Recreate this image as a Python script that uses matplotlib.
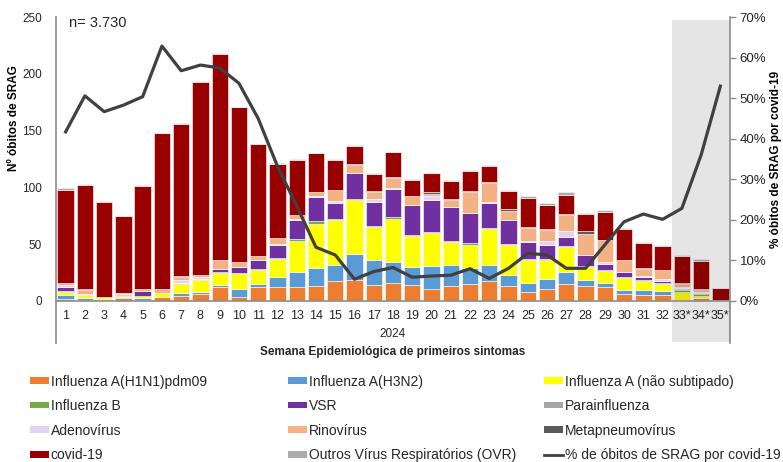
# Óbitos de SRAG por semana epidemiológica, 2024
import matplotlib.pyplot as plt
import matplotlib.transforms as mtransforms
from matplotlib.patches import Patch, Rectangle
from matplotlib.lines import Line2D
from matplotlib.ticker import PercentFormatter
import numpy as np

plt.rcParams['font.family'] = ['Liberation Sans', 'DejaVu Sans']

# --- Dados ---
semanas = [str(i) for i in range(1, 33)] + ['33*', '34*', '35*']

h1n1 = [1.5, 1, 0.5, 2.5, 1, 3.5, 4.5, 6, 12.5, 3.5, 12, 12, 12, 13, 17, 18, 14, 16,
        14, 10, 13, 15, 17, 13, 8, 10, 15, 13, 12, 6, 5, 5, 0.5, 2, 0.5]
h3n2 = [3.5, 1, 0.5, 1, 1, 0, 2, 2, 1.5, 6.5, 2.5, 9, 13, 16, 14.5, 23.5, 22, 18.5,
        16, 21, 18.5, 14, 14.5, 9.5, 8, 9, 10.5, 5, 3.5, 3.5, 4.5, 3.5, 0.5, 0.5, 0]
flu_a = [3, 3, 1.5, 0.5, 2.5, 3, 8.5, 10, 10.5, 14, 13, 16, 28, 38.5, 39.5, 47.5, 29, 38,
         27, 28.5, 20.5, 20.5, 31.5, 26.5, 20, 17, 22, 12, 11, 10.5, 8, 6, 6.5, 2, 0.5]
flu_b = [0.5, 0, 0, 1, 0, 0, 0.5, 0.5, 0.5, 0.5, 0.5, 0.5, 1.5, 3, 1.5, 0.5, 1, 1,
         1, 1, 1, 1, 1.5, 1, 1, 1, 1, 1, 1, 1, 1, 1, 1.5, 1, 0]
vsr = [3.5, 0, 0, 0.5, 4, 0, 0, 0, 3, 5, 7.5, 12, 17, 21, 13.5, 23.5, 21, 25,
       26.5, 28, 30, 26.5, 21.5, 21, 15, 12, 8, 9, 4.5, 4, 2, 2, 1, 1, 0]
parainf = [0.5, 0.5, 0, 0, 0, 0, 0.5, 0.5, 0, 0, 0, 0, 0, 0, 0, 0, 0, 0,
           0, 0, 0, 0, 0, 0, 0, 0, 0, 0, 0, 0, 0, 0, 1, 0.5, 0]
adeno = [1.5, 0.5, 0, 0, 0, 0.5, 2, 1.5, 0, 0.5, 0, 0.5, 0.5, 0.5, 2, 0, 2.5, 0.5,
         0, 4, 0, 0, 1.5, 0.5, 0.5, 3.5, 5, 0.5, 2.5, 0, 1, 2, 1, 1, 0]
rino = [1.5, 3.5, 1, 1, 1.5, 3.5, 3, 2, 8, 4, 3.5, 5, 4, 4, 9.5, 6.5, 6.5, 9,
        8, 2, 5.5, 19, 16.5, 8, 11.5, 10, 14, 18.5, 19, 10.5, 6.5, 7.5, 2.5, 1, 0]
metapn = [0.5, 0.5, 0, 0.5, 0.5, 0, 0.5, 0.5, 0, 0, 0, 0, 0, 0, 0, 1, 0.5, 1,
          0, 1.5, 1, 1, 1, 1, 1, 1, 1, 2.5, 0, 0, 0.5, 0.5, 1, 1, 0]
covid = [81.5, 92.5, 83.5, 67.5, 91, 137, 134.5, 170, 182, 136.5, 99, 66, 48.5, 34, 27, 16, 15.5, 22,
         14, 16.5, 16.5, 17.5, 13.5, 16, 25.5, 21, 16.5, 15, 24.5, 28, 22.5, 21, 24, 25, 10]
ovr = [1.5, 0.5, 1, 0.5, 0.5, 0.5, 1, 0.5, 0.5, 0.5, 0.5, 0.5, 0.5, 0.5, 0.5, 0.5, 0.5, 0.5,
       0.5, 0.5, 0.5, 0.5, 1, 1.5, 2, 1.5, 3, 0.5, 2, 0.5, 0.5, 0.5, 0.5, 1.5, 0]

pct_covid = [41.7, 50.6, 46.7, 48.3, 50.4, 62.9, 56.8, 58.2, 57.5, 53.7, 45.0, 33.2, 23.4, 13.2,
             11.3, 5.3, 7.2, 8.2, 5.8, 6.1, 6.3, 7.9, 5.5, 8.0, 11.7, 11.3, 8.0, 8.0, 13.8,
             19.5, 21.4, 20.1, 22.8, 36.0, 53.0]

series = [
    ('Influenza A(H1N1)pdm09', h1n1, '#ED7D31'),
    ('Influenza A(H3N2)', h3n2, '#5B9BD5'),
    ('Influenza A (não subtipado)', flu_a, '#FFFF00'),
    ('Influenza B', flu_b, '#70AD47'),
    ('VSR', vsr, '#7030A0'),
    ('Parainfluenza', parainf, '#A5A5A5'),
    ('Adenovírus', adeno, '#E2D3F2'),
    ('Rinovírus', rino, '#F4B183'),
    ('Metapneumovírus', metapn, '#595959'),
    ('covid-19', covid, '#990000'),
    ('Outros Vírus Respiratórios (OVR)', ovr, '#ABABAB'),
]
label_linha = '% de óbitos de SRAG por covid-19'
cor_linha = '#404040'
cor_eixo = '#8C8C8C'
cor_texto = '#262626'

# --- Gráfica ---
fig = plt.figure(figsize=(7.83, 4.62), dpi=100)
ax = fig.add_axes([56 / 783, 1 - 300.7 / 462, 674 / 783, 283.4 / 462])

x = np.arange(1, len(semanas) + 1)
base = np.zeros(len(semanas))
for nome, vals, cor in series:
    vals = np.array(vals)
    ax.bar(x, vals, bottom=base, width=0.85, color=cor, edgecolor='white', linewidth=0.4)
    base += vals

ax.set_xlim(0.5, len(semanas) + 0.5)
ax.set_ylim(0, 250)
ax.set_yticks(range(0, 251, 50))
ax.set_xticks(x)
ax.set_xticklabels(semanas)
ax.tick_params(axis='both', length=0, colors=cor_texto)
ax.tick_params(axis='x', pad=7, labelsize=9)
ax.tick_params(axis='y', pad=10, labelsize=8.5)
for s in ['top', 'right']:
    ax.spines[s].set_visible(False)
for s in ['left', 'bottom']:
    ax.spines[s].set_color(cor_eixo)
    ax.spines[s].set_linewidth(1.2)
ax.set_ylabel('Nº óbitos de SRAG', fontsize=8.5, weight='bold', va='center')
ax.yaxis.set_label_coords(-0.0623, 0.645)

# separadores do eixo de categorias
for xa in [0, 1]:
    ax.plot([xa, xa], [0, -0.148], transform=ax.transAxes, color=cor_eixo,
            linewidth=1.2, clip_on=False)

# área sombreada (semanas provisórias)
trans = mtransforms.blended_transform_factory(ax.transData, ax.transAxes)
ax.add_patch(Rectangle((32.5, -0.146), 3.0, 0.99 + 0.146, transform=trans,
                       facecolor='black', alpha=0.1, edgecolor='none',
                       zorder=2.2, clip_on=False))

ax.text(0.02, 0.981, 'n= 3.730', transform=ax.transAxes, fontsize=10.5,
        ha='left', va='center', color=cor_texto)

# eixo secundário - %
ax2 = ax.twinx()
ax2.plot(x, np.array(pct_covid) / 100, color=cor_linha, linewidth=2.3)
ax2.set_ylim(0, 0.7)
ax2.set_yticks(np.arange(0, 0.71, 0.1))
ax2.yaxis.set_major_formatter(PercentFormatter(1.0, decimals=0))
ax2.tick_params(axis='y', length=4, width=1, color=cor_eixo, labelsize=9.5,
                labelcolor=cor_texto, pad=3)
for s in ['top', 'left', 'bottom']:
    ax2.spines[s].set_visible(False)
ax2.spines['right'].set_color(cor_eixo)
ax2.spines['right'].set_linewidth(1.2)
ax2.set_ylabel('% óbitos de SRAG por covid-19', fontsize=8.5, weight='bold', va='center')
ax2.yaxis.set_label_coords(1.068, 0.5)

fig.text(393 / 783, 1 - 334 / 462, '2024', fontsize=8.5, ha='center', va='center',
         color=cor_texto)
fig.text(393 / 783, 1 - 352 / 462, 'Semana Epidemiológica de primeiros sintomas',
         fontsize=8.5, weight='bold', ha='center', va='center', color=cor_texto)

# --- Legenda (3 colunas) ---
handles = [Patch(facecolor=c, edgecolor='none', label=n) for n, _, c in series]
handles.append(Line2D([], [], color=cor_linha, linewidth=2, label=label_linha))
colunas = [handles[0::3], handles[1::3], handles[2::3]]
posx = [24 / 783, 282 / 783, 538 / 783]
for hs, px in zip(colunas, posx):
    fig.legend(handles=hs, loc='upper left', bbox_to_anchor=(px, 1 - 369 / 462),
               frameon=False, fontsize=10, handlelength=1.37, handleheight=0.36,
               handletextpad=0.15, labelspacing=0.76, borderaxespad=0,
               labelcolor=cor_texto)

fig.savefig('out.png', dpi=100)
